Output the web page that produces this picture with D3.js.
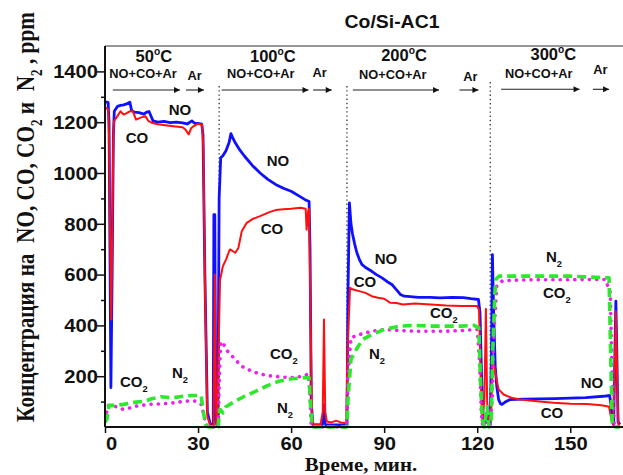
<!DOCTYPE html>
<html><head><meta charset="utf-8">
<script src="https://cdn.jsdelivr.net/npm/d3@7"></script>
<style>
body{margin:0;background:#fff}
svg{display:block}
text{white-space:pre}
</style>
</head><body>
<svg id="chart" width="623" height="475"></svg>
<script>
// ---- measured concentrations (ppm) vs time (min) ----
const noTime = [0,1.0,1.3,1.6,1.9,2.3,2.7,3.0,4,5,6,7,8,8.6,9.5,11,12.5,13.5,14.2,15.5,17,19,21,23,25,26.5,28,29,30,31.2,31.6,32.2,33,34,34.9,35.1,35.4,35.7,36.0,36.4,36.8,37.3,38,39,40,40.6,41.2,42,43.5,45,47.5,50,52.5,55,57.5,60,62.5,64.5,65.8,66.1,66.5,67,70,70.4,70.6,70.8,71.2,78,78.3,78.8,79.3,79.8,80.5,81.2,82,82.8,84,86,87.5,89.3,91,92.5,94,95.2,96.5,98.4,101,104.8,108,112,115.5,118,120.4,120.9,121.4,121.9,122.5,123.2,123.7,124.2,124.6,124.9,125.3,125.8,126.3,126.9,127.5,128,129,130.6,135,140,145,150,155,160.6,162.7,163.1,163.6,164,164.4,164.7,165,165.4,166];
const noConc = [1280,1278,1200,700,155,600,1150,1243,1262,1266,1268,1272,1279,1245,1240,1238,1232,1240,1242,1205,1200,1203,1198,1200,1197,1193,1205,1195,1195,1192,1150,600,60,8,10,836,836,40,10,30,900,1060,1068,1088,1120,1155,1138,1119,1090,1066,1030,1000,975,955,940,928,910,895,888,700,100,8,8,20,88,20,8,8,500,882,800,760,720,686,660,640,628,613,600,587,572,561,540,522,515,513,510,510,508,510,509,505,502,450,200,40,20,60,20,10,300,679,450,239,160,108,92,89,98,108,110,111,112,114,116,121,124,90,20,10,300,495,300,20,10];

const coTime = [0,1.0,1.3,1.6,2.0,2.3,2.7,2.9,4,5,6,7,8,9,10,11.5,13,14,15,17,20,22,25,26,27,27.7,28.5,30,31.3,31.7,32.3,33,34,35.0,35.2,35.4,35.6,35.9,36.3,36.6,37.1,38,39,40,40.3,41,42,43,44.1,45.7,47.8,50,53,55,57.5,60,63,64.7,65,65.5,65.8,66.2,66.7,67.2,69.5,70.2,70.6,71.0,71.5,73,74.5,76,77.8,78.2,79,80,82,84,86,88,90,92,94,96,100,105,110,115,120,120.6,121.1,121.6,122.3,122.8,123.2,123.8,124.5,124.9,125.5,126.2,126.9,128.5,131,133.9,140,144.6,150,155.4,160,161.8,162.5,163.1,163.8,164.3,164.7,165.1,165.5,166];
const coConc = [1257,1252,1150,800,423,700,1150,1204,1224,1243,1230,1236,1243,1243,1210,1218,1224,1205,1198,1192,1187,1184,1180,1170,1152,1175,1184,1194,1190,1100,500,40,5,5,300,600,300,10,20,300,580,633,659,692,699,694,686,705,771,804,820,830,846,854,857,859,863,859,777,850,859,500,50,10,10,60,423,60,22,18,25,18,15,300,548,541,535,528,515,509,505,489,488,482,486,482,478,476,476,460,200,30,100,465,100,10,40,266,240,190,148,128,115,108,100,95,92,91,86,82,80,40,10,200,456,200,10,5];

const co2Time = [0,0.4,1,3,6,8,10,14,18,22,26,29,31,31.8,32.5,33.5,36.5,36.9,37.3,38,39,41,44,48,52,56,60,64,65.5,66,66.4,66.8,78,78.3,79.3,82,86,90,95,100,110,115,120,120.8,121.3,121.8,123,124,124.8,125.3,126.3,128,131,140,150,161.3,162.9,163.5,164.2,166];
const co2Conc = [30,49,85,82,69,75,82,89,91,95,102,102,89,50,10,0,0,200,334,334,305,279,239,216,203,198,194,200,209,150,20,0,0,200,351,364,377,384,380,377,377,380,384,250,60,0,30,0,100,350,554,574,578,580,580,581,530,200,0,0];

const n2Time = [0,0.6,1.3,3,6,10,13,15,18,22,25,28,31,31.7,32.5,33.5,36.5,36.9,37.1,38,39,42,45,48,52,56,60,64,65.8,66.3,66.8,78,78.4,79.3,81,83,86,90,95,100,105,110,115,119,120.5,121,121.6,122.3,123.2,123.8,124.5,125,125.7,126,127,140,150,162.5,163,163.5,164,166];
const n2Conc = [18,30,85,85,89,98,102,111,119,115,121,124,124,60,5,0,0,60,69,56,80,102,121,137,161,180,190,194,194,80,0,0,120,266,305,344,364,384,397,400,397,397,397,400,390,200,30,0,80,0,20,300,530,581,594,594,594,587,300,20,0,0];

const xTicks = [0,30,60,90,120,150];
const yTicks = [200,400,600,800,1000,1200,1400];
const yMinorTicks = [100,300,500,700,900,1100,1300];

// stage headers: temperature, time where each flow arrow starts/ends
const stageTemps = ["50","100","200","300"];
const gasMix = "NO+CO+Ar";
const purgeGas = "Ar";
const stageSwitch = [36.8, 78.0, 124.2];

// ---- layout ----
const svg = d3.select("#chart");
const x = d3.scaleLinear().domain([0,167]).range([105,623]);
const y = d3.scaleLinear().domain([0,1500]).range([427,46]);
const SANS = "'Liberation Sans', Arial, sans-serif";
const SERIF = "'Liberation Serif', 'Times New Roman', serif";

function rich(parent, parts, size){
  const t = parent.append("text").attr("font-size", size);
  let shift = 0;
  parts.forEach(p => {
    const s = typeof p === "string" ? {t:p, k:""} : p;
    const target = s.k === "sub" ? size*0.32 : s.k === "sup" ? -size*0.42 : 0;
    t.append("tspan").attr("dy", target - shift)
      .attr("font-size", s.k ? size*0.62 : size).text(s.t);
    shift = target;
  });
  return t;
}
function label(px, py, parts, size, opts={}){
  const g = svg.append("g")
    .attr("transform", `translate(${px},${py}) scale(${opts.sx||1},1)`);
  const t = rich(g, parts, size)
    .attr("text-anchor", opts.anchor || "middle")
    .attr("font-family", opts.family || SANS)
    .attr("font-weight", "bold")
    .attr("fill", "#111");
  return t;
}

// clip for curves
svg.append("clipPath").attr("id","plot")
  .append("rect").attr("x",105).attr("y",46).attr("width",518).attr("height",386);

// frame
svg.append("line").attr("x1",105).attr("x2",623).attr("y1",46).attr("y2",46)
  .attr("stroke","#333").attr("stroke-width",1.2);

// stage boundaries (dotted)
const dotTop = [86,86,82];
stageSwitch.forEach((t,i) => {
  svg.append("line").attr("x1",x(t)).attr("x2",x(t))
    .attr("y1",dotTop[i]).attr("y2",426)
    .attr("stroke","#444").attr("stroke-width",1.4)
    .attr("stroke-dasharray","1.4 2.8");
});

// curves
const series = [
  {t:noTime,  v:noConc,  color:"#1010ff", w:2.8, dash:null, cap:"butt"},
  {t:coTime,  v:coConc,  color:"#ff1010", w:2.0, dash:null, cap:"butt"},
  {t:co2Time, v:co2Conc, color:"#ee1eee", w:3.6, dash:"0.1 7.2", cap:"round"},
  {t:n2Time,  v:n2Conc,  color:"#2ee82e", w:3.6, dash:"9 5", cap:"butt"}
];
const line = d3.line().x(d => x(d[0])).y(d => y(d[1]));
const curves = svg.append("g").attr("clip-path","url(#plot)");
series.forEach(s => {
  curves.append("path")
    .datum(s.t.map((t,i) => [t, s.v[i]]))
    .attr("d", line)
    .attr("fill","none")
    .attr("stroke", s.color)
    .attr("stroke-width", s.w)
    .attr("stroke-linejoin","round")
    .attr("stroke-linecap", s.cap)
    .attr("stroke-dasharray", s.dash);
});

// axes
const yAxis = svg.append("g").attr("transform","translate(105,0)")
  .call(d3.axisLeft(y).tickValues(yTicks).tickSize(8).tickFormat(d3.format("d")));
svg.append("g").attr("transform","translate(105,0)")
  .call(d3.axisLeft(y).tickValues(yMinorTicks).tickSize(4).tickFormat(""))
  .call(g => g.select(".domain").remove());
const xAxis = svg.append("g").attr("transform","translate(0,427)")
  .call(d3.axisBottom(x).tickValues(xTicks).tickSize(6));

svg.selectAll(".domain").attr("stroke","#111").attr("stroke-width",2);
svg.selectAll(".tick line").attr("stroke","#111").attr("stroke-width",1.5);
yAxis.select(".domain").attr("d","M0,427V46");
xAxis.select(".domain").attr("d","M105,0H623");

yAxis.selectAll(".tick text")
  .attr("font-family",SANS).attr("font-weight","bold").attr("font-size",18)
  .attr("fill","#111").attr("x",0).attr("dy","0.35em")
  .attr("transform","translate(-7,0) scale(1.12,1)");
xAxis.selectAll(".tick text")
  .attr("font-family",SANS).attr("font-weight","bold").attr("font-size",18)
  .attr("fill","#111").attr("y",0).attr("dy",0)
  .attr("transform", d => `translate(${d === 0 ? 6 : 0},23) scale(1.12,1)`);

// title and axis titles
label(392, 28, ["Co/Si-AC1"], 18.5, {sx:1.05});
label(361, 471, ["Време, мин."], 19, {family:SERIF, sx:1.1});

const yt = svg.append("g");
const ytText = rich(yt, ["Концентрация на  NO, CO, CO", {t:"2",k:"sub"}, " и  N", {t:"2",k:"sub"}, " , ppm"], 19)
  .attr("font-family", SERIF).attr("font-weight","bold").attr("fill","#111")
  .attr("text-anchor","middle");
const ytLen = ytText.node().getComputedTextLength();
yt.attr("transform", `translate(34,217) rotate(-90) scale(${410/ytLen},1.35)`);

// stage headers with flow arrows
const defs = svg.append("defs");
defs.append("marker").attr("id","arr").attr("viewBox","0 0 10 10")
  .attr("refX",10).attr("refY",5).attr("markerWidth",10).attr("markerHeight",6)
  .attr("markerUnits","userSpaceOnUse").attr("orient","auto")
  .append("path").attr("d","M0,0L10,5L0,10z").attr("fill","#111");

const headerX = [153.8, 272.8, 404, 553.3];
const headerY = [61.7, 61.7, 61, 60];
const mixX = [143, 260.8, 392.8, 538.7];
const mixY = [78.3, 78, 79, 77.7];
const arX = [194.7, 319.7, 470.3, 600.3];
const arY = [80, 77, 80.7, 74];
const mixArrow = [[2.5,24.2],[37.6,65.6],[79.9,107.7],[127.7,153.0]];
const arArrow = [[26.1,31.9],[67.1,73.1],[114.3,120.4],[157.3,162.5]];
const arrowY = [90, 90, 90, 89.3];

stageTemps.forEach((T,i) => {
  label(headerX[i], headerY[i], [T, {t:"o",k:"sup"}, "C"], 16.5);
  label(mixX[i], mixY[i], [gasMix], 12.8);
  label(arX[i], arY[i], [purgeGas], 12.8);
  [mixArrow[i], arArrow[i]].forEach(a => {
    svg.append("line").attr("x1",x(a[0])).attr("x2",x(a[1]))
      .attr("y1",arrowY[i]).attr("y2",arrowY[i])
      .attr("stroke","#222").attr("stroke-width",1.1)
      .attr("marker-end","url(#arr)");
  });
});

// curve labels
const F = 15;
label(180, 115, ["NO"], F);
label(137, 143, ["CO"], F);
label(278, 166, ["NO"], F);
label(272, 234, ["CO"], F);
label(120, 387, ["CO", {t:"2",k:"sub"}], F, {anchor:"start"});
label(172, 378, ["N", {t:"2",k:"sub"}], F, {anchor:"start"});
label(270, 359, ["CO", {t:"2",k:"sub"}], F, {anchor:"start"});
label(277, 413, ["N", {t:"2",k:"sub"}], F, {anchor:"start"});
label(386, 264, ["NO"], F);
label(365, 287, ["CO"], F);
label(430, 318, ["CO", {t:"2",k:"sub"}], F, {anchor:"start"});
label(369, 359, ["N", {t:"2",k:"sub"}], F, {anchor:"start"});
label(546, 262, ["N", {t:"2",k:"sub"}], F, {anchor:"start"});
label(543, 298, ["CO", {t:"2",k:"sub"}], F, {anchor:"start"});
label(592, 388, ["NO"], F);
label(552, 418, ["CO"], F);
</script>
</body></html>
